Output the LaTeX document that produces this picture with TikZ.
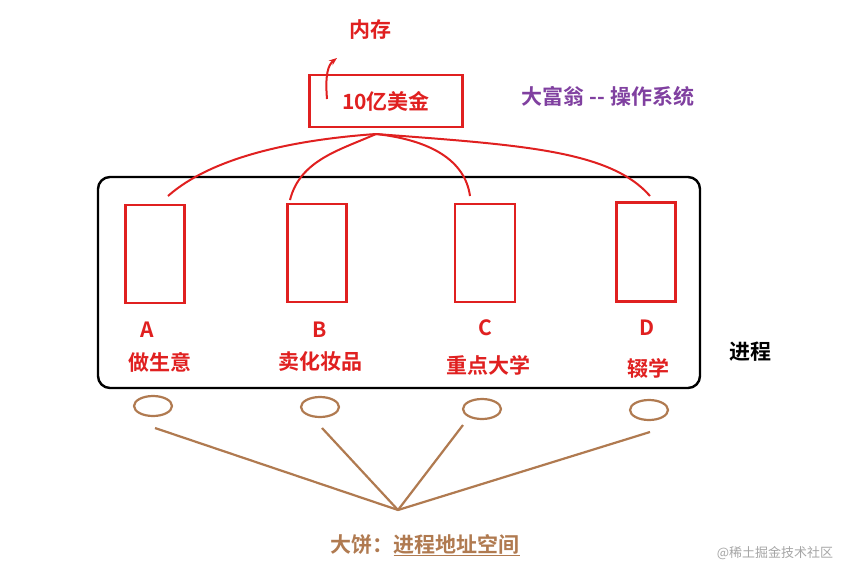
\documentclass[tikz,border=0pt]{standalone}
\usepackage{fontspec}
\setmainfont{Noto Sans CJK SC}[BoldFont={Noto Sans CJK SC Bold}]
\usetikzlibrary{arrows.meta,shapes.geometric}
\definecolor{rd}{HTML}{E02020}
\definecolor{pu}{HTML}{8040A0}
\definecolor{br}{HTML}{B07A50}
\tikzset{rbox/.style={draw=rd,line width=2.2pt},
lbl/.style={text=rd,font=\fontsize{21}{24}\selectfont\bfseries},
cur/.style={draw=rd,line width=2pt},
bl/.style={draw=br,line width=2.2pt},
el/.style={draw=br,line width=2.2pt,ellipse,minimum width=38pt,minimum height=20pt,inner sep=0pt}}
\begin{document}
\begin{tikzpicture}[x=1pt,y=-1pt]
\useasboundingbox (0,0) rectangle (858,573);
\fill[white] (0,0) rectangle (858,573);
\node[text=rd,font=\fontsize{21}{24}\selectfont\bfseries] (mem) at (370,30) {内存};
\node[rbox,minimum width=153pt,minimum height=52pt,font=\fontsize{21}{24}\selectfont\bfseries,text=rd] (top) at (386,101) {10亿美金};
\coordinate (a0) at (327,99);
\coordinate (a1) at (337,58);
\draw[cur,-{Stealth[length=8pt]}] (a0) .. controls (325,75) and (328,65) .. (a1);
\node[text=pu,font=\fontsize{21}{24}\selectfont\bfseries] (os) at (608,96) {大富翁 -{}- 操作系统};
\draw[line width=2.4pt,rounded corners=12pt] (98,177) rectangle (700,388);
\node[rbox,minimum width=59pt,minimum height=98pt] (A) at (155,254) {};
\node[rbox,minimum width=59pt,minimum height=98pt] (B) at (317,253) {};
\node[rbox,minimum width=60pt,minimum height=98pt] (C) at (485,253) {};
\node[rbox,minimum width=59pt,minimum height=99pt] (D) at (646,252) {};
\node[lbl] at (147,330) {A};
\node[lbl] at (160,362) {做生意};
\node[lbl] at (320,330) {B};
\node[lbl] at (320,362) {卖化妆品};
\node[lbl] at (485,328) {C};
\node[lbl] at (488,365) {重点大学};
\node[lbl] at (647,328) {D};
\node[lbl] at (648,368) {辍学};
\node[font=\fontsize{21}{24}\selectfont\bfseries] (proc) at (750,352) {进程};
\coordinate (t) at (376,134);
\draw[cur] (168,196) .. controls (220,150) and (320,138) .. (t);
\draw[cur] (t) .. controls (430,140) and (465,160) .. (470,196);
\draw[cur] (t) .. controls (520,145) and (610,150) .. (650,196);
\draw[cur] (t) .. controls (340,150) and (300,160) .. (290,200);
\node[el] (e1) at (153,406) {};
\node[el] (e2) at (320,407) {};
\node[el] (e3) at (482,409) {};
\node[el] (e4) at (649,410) {};
\coordinate (h) at (398,510);
\draw[bl] (h) -- (155,428);
\draw[bl] (h) -- (322,428);
\draw[bl] (h) -- (463,425);
\draw[bl] (h) -- (650,432);
\node[text=br,font=\fontsize{21}{24}\selectfont\bfseries] (pie) at (425,545) {大饼：\underline{进程地址空间}};
\node[text=gray!70,font=\fontsize{13}{15}\selectfont] (wm) at (775,553) {@稀土掘金技术社区};
\end{tikzpicture}
\end{document}
